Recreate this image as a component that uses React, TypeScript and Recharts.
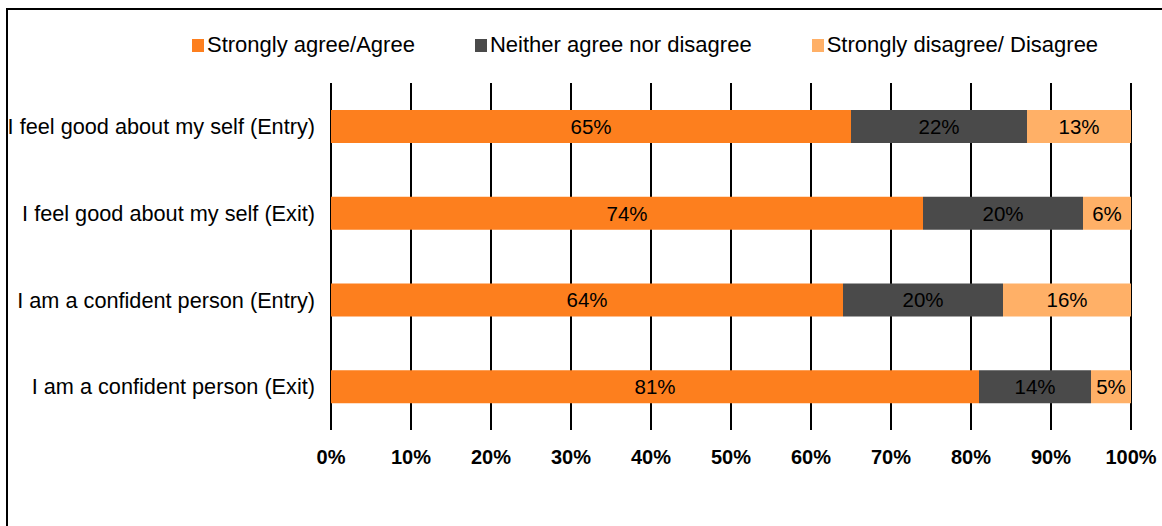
import React from 'react';
import {
  BarChart,
  Bar,
  XAxis,
  YAxis,
  CartesianGrid,
  Legend,
  LabelList,
} from 'recharts';

// rows, top to bottom
const CATEGORIES = [
  'I feel good about my self (Entry)',
  'I feel good about my self (Exit)',
  'I am a confident person (Entry)',
  'I am a confident person (Exit)',
];
const AGREE = [65, 74, 64, 81];
const NEITHER = [22, 20, 20, 14];
const DISAGREE = [13, 6, 16, 5];
const X_TICKS = [0, 10, 20, 30, 40, 50, 60, 70, 80, 90, 100];

const SERIES = [
  { key: 'agree', label: 'Strongly agree/Agree', color: '#fd7f1e' },
  { key: 'neither', label: 'Neither agree nor disagree', color: '#4a4a4a' },
  { key: 'disagree', label: 'Strongly disagree/ Disagree', color: '#ffb067' },
];

const FONT = '"Liberation Sans", Arial, sans-serif';

const chartData = CATEGORIES.map((name, i) => ({
  name,
  agree: AGREE[i],
  neither: NEITHER[i],
  disagree: DISAGREE[i],
}));

function LegendRow(): React.JSX.Element {
  return (
    <div style={{ display: 'flex', alignItems: 'center', fontFamily: FONT, fontSize: 22, color: '#000' }}>
      {SERIES.map((s) => (
        <div key={s.key} style={{ display: 'flex', alignItems: 'center', marginRight: 60, whiteSpace: 'nowrap' }}>
          <span style={{ display: 'inline-block', width: 12, height: 13, background: s.color, marginRight: 3 }} />
          {s.label}
        </div>
      ))}
    </div>
  );
}

export default function App(): React.JSX.Element {
  return (
    <div style={{ position: 'absolute', left: 0, top: 0, width: 1162, height: 526, overflow: 'hidden', background: '#fff' }}>
      {/* outer frame, cut off on the right and bottom */}
      <div style={{ position: 'absolute', left: 6, top: 8, width: 1300, height: 700, border: '2px solid #000' }} />
      <div style={{ position: 'absolute', left: 0, top: 0 }}>
        <BarChart
          width={1162}
          height={526}
          data={chartData}
          layout="vertical"
          margin={{ top: 83, right: 31, bottom: 66, left: 0 }}
          barCategoryGap={27}
        >
          <CartesianGrid horizontal={false} vertical stroke="#000" strokeWidth={2} />
          <XAxis
            type="number"
            domain={[0, 100]}
            ticks={X_TICKS}
            tickFormatter={(v: number) => `${v}%`}
            axisLine={false}
            tickLine={false}
            tickSize={0}
            tickMargin={20}
            height={30}
            interval={0}
            tick={{ fontSize: 20, fontWeight: 'bold', fill: '#000', fontFamily: FONT }}
          />
          <YAxis
            type="category"
            dataKey="name"
            width={331}
            axisLine={false}
            tickLine={false}
            tickSize={0}
            tickMargin={16}
            interval={0}
            tick={{ fontSize: 21.7, fill: '#000', fontFamily: FONT }}
          />
          <Legend
            layout="horizontal"
            verticalAlign="middle"
            align="center"
            wrapperStyle={{ top: 32, left: 192, width: 'auto' }}
            content={() => <LegendRow />}
          />
          {SERIES.map((s) => (
            <Bar key={s.key} dataKey={s.key} stackId="a" fill={s.color} isAnimationActive={false}>
              <LabelList
                dataKey={s.key}
                position="center"
                formatter={(v: number) => `${v}%`}
                style={{ fontSize: 20.5, fill: '#000', fontFamily: FONT }}
              />
            </Bar>
          ))}
        </BarChart>
      </div>
    </div>
  );
}
